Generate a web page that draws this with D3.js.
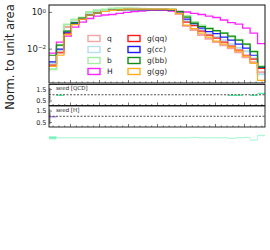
<!DOCTYPE html>
<meta charset="utf-8">
<script src="https://cdn.jsdelivr.net/npm/d3@7"></script>
<style>
body { margin: 0; background: #fff; }
text { font-family: "DejaVu Sans", sans-serif; fill: #222; }
</style>
<body>
<script>
// ---- data ----
var nBins = 29
var xDomain = [-0.724, 6.724]
var xMajor = [0, 1, 2, 3, 4, 5, 6]

var q   = [0.0014, 0.0057, 0.151, 0.30, 0.47, 0.94, 1.13, 1.29, 1.46, 1.52, 1.52, 1.52, 1.46, 1.46, 1.46, 1.46, 1.41, 0.78, 0.171, 0.103, 0.055, 0.035, 0.023, 0.0156, 0.0106, 0.0064, 0.0034, 0.0018, 0.00052]
var c   = [0.0016, 0.0083, 0.091, 0.283, 0.47, 0.78, 1.0, 1.21, 1.37, 1.41, 1.41, 1.41, 1.41, 1.41, 1.37, 1.37, 1.32, 0.94, 0.32, 0.194, 0.103, 0.062, 0.043, 0.029, 0.0177, 0.0113, 0.0073, 0.0030, 0.0004]
var b   = [0.00075, 0.0156, 0.207, 0.39, 0.50, 1.0, 1.24, 1.37, 1.55, 1.6, 1.6, 1.55, 1.52, 1.46, 1.46, 1.46, 1.41, 1.06, 0.60, 0.283, 0.182, 0.133, 0.091, 0.071, 0.045, 0.031, 0.0177, 0.0073, 0.0011]
var hig = [0.0057, 0.023, 0.048, 0.151, 0.283, 0.44, 0.60, 0.685, 0.73, 0.83, 0.94, 1.06, 1.13, 1.21, 1.21, 1.21, 1.13, 1.06, 1.0, 0.83, 0.73, 0.60, 0.50, 0.365, 0.266, 0.22, 0.133, 0.071, 0.019]
var gqq = [0.00125, 0.0064, 0.071, 0.22, 0.41, 0.685, 0.88, 1.06, 1.21, 1.29, 1.37, 1.37, 1.37, 1.37, 1.37, 1.37, 1.32, 0.83, 0.283, 0.182, 0.091, 0.055, 0.038, 0.023, 0.0137, 0.0083, 0.0044, 0.0027, 0.00085]
var gcc = [0.0019, 0.0094, 0.080, 0.25, 0.44, 0.685, 0.88, 1.06, 1.21, 1.29, 1.34, 1.34, 1.34, 1.34, 1.34, 1.34, 1.29, 1.0, 0.41, 0.234, 0.133, 0.085, 0.066, 0.043, 0.029, 0.0177, 0.0106, 0.0044, 0.00097]
var gbb = [0.0044, 0.0156, 0.091, 0.266, 0.47, 0.685, 0.88, 1.06, 1.21, 1.29, 1.32, 1.32, 1.32, 1.32, 1.32, 1.32, 1.29, 1.06, 0.53, 0.25, 0.160, 0.125, 0.097, 0.071, 0.048, 0.029, 0.0177, 0.0069, 0.00103]
var ggg = [0.0011, 0.0044, 0.058, 0.207, 0.41, 0.685, 0.88, 1.06, 1.21, 1.29, 1.41, 1.41, 1.41, 1.41, 1.41, 1.41, 1.37, 0.83, 0.194, 0.125, 0.071, 0.043, 0.026, 0.0177, 0.0121, 0.0073, 0.0039, 0.0016, 0.00019]

// ratio bins that sit on the unity line are hidden by it (null)
var ratioQCD = [null, 0.95, null, null, null, null, null, null, null, null, null, null, null, null, null, null, null, null, null, null, null, null, null, null, 0.95, 0.95, null, 0.95, 1.12]
var ratioH   = [0.95, null, null, null, null, null, null, null, null, null, null, null, null, null, null, null, null, null, null, null, null, null, null, null, null, null, null, null, null]
var ratioLow = [1.0, 1, 1, 1, 1, 1, 1, 1, 1, 1, 1, 1, 1, 1, 1, 1, 1, 1, 1, 1.03, 1, 1, 1, 1, 0.95, 1, 1.02, 0.8, 1.2]
var ratioLowErr = [0.13, 0.05, 0.05, 0.05, 0.05, 0.05, 0.05, 0.05, 0.05, 0.05, 0.05, 0.05, 0.05, 0.05, 0.05, 0.05, 0.05, 0.05, 0.05, 0.05, 0.05, 0.05, 0.05, 0.05, 0.05, 0.05, 0.05, 0.05, 0.08]

var names = ["q", "c", "b", "H", "g(qq)", "g(cc)", "g(bb)", "g(gg)"]
var series = [q, c, b, hig, gqq, gcc, gbb, ggg]
var colors = ["#f5a3a3", "#b5def0", "#a3eda3", "#ff22ff", "#ff1a1a", "#1a1aff", "#168c16", "#ffad1f"]
var widths = [2, 2, 2, 1.3, 1.2, 1.2, 1.2, 1.2]

// ---- layout ----
var L = 49, R = 265
var mainTop = 5, mainBot = 83
var panels = [[84.5, 105.5], [106, 127], [127.5, 148.5]]

var svg = d3.select("body").append("svg").attr("width", 270).attr("height", 250)

var x = d3.scaleLinear().domain(xDomain).range([L, R])
var edges = d3.range(nBins + 1).map(i => xDomain[0] + i * (xDomain[1] - xDomain[0]) / nBins)
var xMinor = d3.range(-0.6, 6.72, 0.2).filter(v => Math.abs(v - Math.round(v)) > 0.05)

var y = d3.scaleLog().domain([1.35e-4, 2.4]).range([mainBot, mainTop])

function step(vals, ys) {
  var pts = vals.map((v, i) => [edges[i], v])
  pts.push([edges[nBins], vals[nBins - 1]])
  return d3.line().x(d => x(d[0])).y(d => ys(d[1])).curve(d3.curveStepAfter)(pts)
}

svg.append("clipPath").attr("id", "clipMain").append("rect")
  .attr("x", L).attr("y", mainTop).attr("width", R - L).attr("height", mainBot - mainTop)

var gMain = svg.append("g").attr("clip-path", "url(#clipMain)")
series.forEach((s, i) => {
  gMain.append("path").attr("d", step(s, y)).attr("fill", "none")
    .attr("stroke", colors[i]).attr("stroke-width", widths[i])
})

function xTicks(bottom) {
  var a = svg.append("g").attr("transform", "translate(0," + bottom + ")")
    .call(d3.axisBottom(x).tickValues(xMajor).tickSize(-3).tickFormat(""))
  a.select(".domain").remove()
  var m = svg.append("g").attr("transform", "translate(0," + bottom + ")")
    .call(d3.axisBottom(x).tickValues(xMinor).tickSize(-1.5).tickFormat(""))
  m.select(".domain").remove()
  svg.selectAll(".tick line").attr("stroke", "#444").attr("stroke-width", 0.7)
}

// main axis
xTicks(mainBot)
var ya = svg.append("g").attr("transform", "translate(" + L + ",0)")
  .call(d3.axisLeft(y).tickValues([1, 0.01]).tickSize(-3).tickFormat(""))
ya.select(".domain").remove()
ya.selectAll(".tick line").attr("stroke", "#444").attr("stroke-width", 0.8)
ya.selectAll(".tick").append("text")
  .attr("x", -3).attr("dy", "0.32em").attr("text-anchor", "end").style("font-size", "8.5px")
  .each(function(d) {
    var t = d3.select(this)
    t.append("tspan").text("10")
    t.append("tspan").attr("dy", "-0.45em").style("font-size", "5.5px").text(d === 1 ? "0" : "\u22122")
  })

svg.append("rect").attr("x", L).attr("y", mainTop).attr("width", R - L).attr("height", mainBot - mainTop)
  .attr("fill", "none").attr("stroke", "#111").attr("stroke-width", 1)

// legend
var leg = svg.append("g")
names.forEach((n, i) => {
  var col = Math.floor(i / 4), row = i % 4
  var bx = 88 + col * 40, cy = 38.5 + row * 11
  leg.append("rect").attr("x", bx).attr("y", cy - 3).attr("width", 12).attr("height", 6)
    .attr("fill", "none").attr("stroke", colors[i]).attr("stroke-width", 1.4)
  leg.append("text").attr("x", bx + 19).attr("y", cy).attr("dy", "0.35em")
    .style("font-size", "7.5px").text(n)
})

svg.append("text").attr("transform", "translate(14,57) rotate(-90)")
  .attr("text-anchor", "middle").style("font-size", "11.5px").text("Norm. to unit area")

// ratio panels
var ratioSets = [
  { vals: ratioQCD, color: "#5ef2ad", label: "seed [QCD]" },
  { vals: ratioH, color: "#b07cf2", label: "seed [H]" }
]
ratioSets.forEach((r, k) => {
  var p = panels[k]
  var yr = d3.scaleLinear().domain([0.06, 1.9]).range([p[1], p[0]])
  svg.append("g").selectAll("line").data(r.vals.map((v, i) => [i, v]).filter(d => d[1] != null)).join("line")
    .attr("x1", d => x(edges[d[0]])).attr("x2", d => x(edges[d[0] + 1]))
    .attr("y1", d => yr(d[1])).attr("y2", d => yr(d[1]))
    .attr("stroke", r.color).attr("stroke-width", 1.3)
  svg.append("line").attr("x1", L).attr("x2", R).attr("y1", yr(1)).attr("y2", yr(1))
    .attr("stroke", "#222").attr("stroke-width", 0.8).attr("stroke-dasharray", "2,1.5")
  var g = svg.append("g").attr("transform", "translate(" + L + ",0)")
    .call(d3.axisLeft(yr).tickValues([0.5, 1.5]).tickSize(-3).tickFormat(d3.format(".1f")))
  g.select(".domain").remove()
  g.selectAll(".tick line").attr("stroke", "#444").attr("stroke-width", 0.7)
  g.selectAll(".tick text").attr("x", -2.5).style("font-size", "6.5px").style("font-family", "DejaVu Sans").attr("fill", "#222")
  var gm = svg.append("g").attr("transform", "translate(" + L + ",0)")
    .call(d3.axisLeft(yr).tickValues([0.4, 0.6, 0.7, 0.8, 0.9, 1.1, 1.2, 1.3, 1.4, 1.6]).tickSize(-1.5).tickFormat(""))
  gm.select(".domain").remove()
  gm.selectAll(".tick line").attr("stroke", "#666").attr("stroke-width", 0.5)
  xTicks(p[1])
  svg.append("rect").attr("x", L).attr("y", p[0]).attr("width", R - L).attr("height", p[1] - p[0])
    .attr("fill", "none").attr("stroke", "#111").attr("stroke-width", 0.9)
  svg.append("text").attr("x", L + 7).attr("y", p[0] + 5.5).style("font-size", "5.5px").text(r.label)
})

// third ratio panel (frame not drawn)
var p3 = panels[2]
var y3 = d3.scaleLinear().domain([0.06, 1.9]).range([p3[1], p3[0]])
svg.append("g").selectAll("rect").data(ratioLow).join("rect")
  .attr("x", (d, i) => x(edges[i])).attr("width", (d, i) => x(edges[i + 1]) - x(edges[i]))
  .attr("y", (d, i) => y3(d + ratioLowErr[i])).attr("height", (d, i) => y3(d - ratioLowErr[i]) - y3(d + ratioLowErr[i]))
  .attr("fill", "#5ef2ad").attr("opacity", (d, i) => i === 0 ? 0.75 : 0.25)
svg.append("path").attr("d", step(ratioLow, y3)).attr("fill", "none")
  .attr("stroke", "#5ef2ad").attr("stroke-width", 1).attr("opacity", 0.35)
</script>
</body>
